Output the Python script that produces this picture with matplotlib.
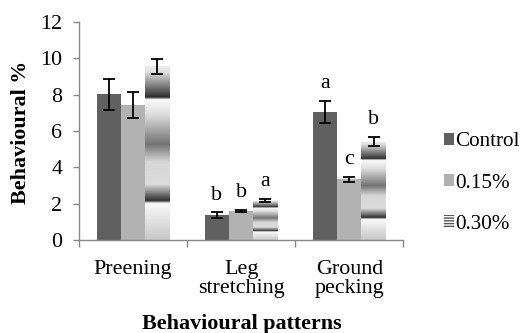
import numpy as np
import matplotlib.pyplot as plt
from matplotlib.patches import Patch

# values
categories = ['Preening', 'Leg\nstretching', 'Ground\npecking']
series = ['Control', '0.15%', '0.30%']
control = [8.02, 1.36, 7.06]
control_err = [0.87, 0.17, 0.60]
low = [7.43, 1.61, 3.34]
low_err = [0.73, 0.05, 0.15]
high = [9.56, 2.17, 5.41]
high_err = [0.40, 0.10, 0.26]
letters = [['', 'b', 'a'], ['', 'b', 'c'], ['', 'a', 'b']]

plt.rcParams['font.family'] = ['Liberation Serif', 'DejaVu Serif']
plt.rcParams['font.size'] = 15.8

fig = plt.figure(figsize=(5.23, 3.33), dpi=100)
ax = fig.add_axes([0.151, 0.279, 0.62, 0.655])

x = np.arange(len(categories))
w = 0.225
vals = [control, low, high]
errs = [control_err, low_err, high_err]
colors = ['#606060', '#b2b2b2', 'none']

# gray profile of the "gradient" fill used for the 0.30% bars (bottom -> top)
stops = [0.0, 0.21, 0.225, 0.32, 0.45, 0.55, 0.72, 0.81, 0.822, 0.97, 1.0]
grays = [0.78, 0.98, 0.18, 0.86, 0.84, 0.45, 0.86, 0.98, 0.18, 0.88, 0.92]
profile = np.interp(np.linspace(0, 1, 200), stops, grays).reshape(-1, 1)

for i in range(3):
    pos = x + (i - 1) * w
    bars = ax.bar(pos, vals[i], w, color=colors[i], linewidth=0)
    if i == 2:
        for p in bars.patches:
            x0, y0 = p.get_x(), p.get_y()
            im = ax.imshow(profile, cmap='gray', vmin=0, vmax=1, origin='lower',
                           extent=[x0, x0 + p.get_width(), y0, y0 + p.get_height()],
                           aspect='auto', interpolation='bilinear', zorder=1)
            im.set_clip_path(p)
    ax.errorbar(pos, vals[i], yerr=errs[i], fmt='none', ecolor='black',
                elinewidth=1.3, capsize=4, capthick=1.3, zorder=3)
    for j in range(3):
        if letters[i][j]:
            ax.text(pos[j], vals[i][j] + errs[i][j] + 0.7, letters[i][j],
                    ha='center', va='baseline')

ax.set_xlim(-0.5, 2.5)
ax.set_ylim(0, 12)
ax.set_yticks(range(0, 13, 2))
ax.set_xticks(x)
ax.set_xticklabels(categories, linespacing=1.05)
ax.set_xticks([-0.5, 0.5, 1.5, 2.5], minor=True)
ax.tick_params(axis='x', which='major', length=0, pad=14)
ax.tick_params(axis='x', which='minor', length=5, color='#888888', width=1)
ax.tick_params(axis='y', length=4, color='#888888', width=1, pad=8)

for s in ['top', 'right']:
    ax.spines[s].set_visible(False)
for s in ['left', 'bottom']:
    ax.spines[s].set_color('#888888')
    ax.spines[s].set_linewidth(1)

fig.text(0.463, 1 - 324 / 333, 'Behavioural patterns', fontweight='bold',
         ha='center', va='center')
fig.text(21 / 523, 1 - 132 / 333, 'Behavioural %', fontweight='bold',
         ha='center', va='center', rotation=90)

handles = [Patch(facecolor='#606060', linewidth=0),
           Patch(facecolor='#b2b2b2', linewidth=0),
           Patch(facecolor='white', edgecolor='#555555', hatch='------', linewidth=0)]
ax.legend(handles, series, loc='center left', bbox_to_anchor=(0.848, 0.45),
          bbox_transform=fig.transFigure, frameon=False, borderpad=0, fontsize=15.2,
          handlelength=0.5, handleheight=0.5, handletextpad=0.06, labelspacing=1.05,
          borderaxespad=0)

plt.savefig('out.png', dpi=100, facecolor='white')
